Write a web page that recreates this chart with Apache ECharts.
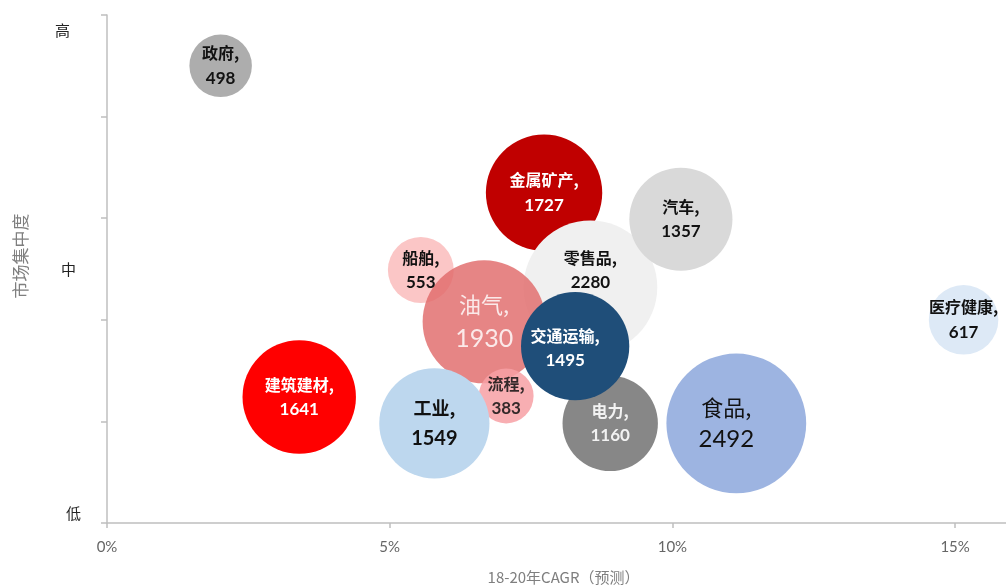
<!DOCTYPE html>
<html>
<head>
<meta charset="utf-8">
<script src="https://cdn.jsdelivr.net/npm/echarts@6/dist/echarts.min.js"></script>
<style>
html,body{margin:0;padding:0;background:#fff;}
#main{width:1006px;height:585px;}
</style>
</head>
<body>
<div id="main"></div>
<script>
// ---- data (drawing order: back to front) ----
const industries = ['船舶','金属矿产','零售品','汽车','油气','流程','工业','电力','交通运输','建筑建材','政府','医疗健康','食品'];
const cagr        = [5.55, 7.73, 8.55, 10.15, 6.67, 7.06, 5.79, 8.90, 8.28, 3.40, 2.01, 15.15, 11.13]; // %
const concentration = [2.49, 3.25, 2.32, 2.99, 1.98, 1.25, 0.98, 0.98, 1.74, 1.24, 4.50, 2.00, 0.98]; // 0=低 … 5=高
const marketSize  = [553, 1727, 2280, 1357, 1930, 383, 1549, 1160, 1495, 1641, 498, 617, 2492];
const xTicks = [0, 5, 10, 15];
const levelLabels = {10: '低', 250: '中', 485: '高'};

// ---- styles ----
const STYLE = {
  '船舶':   {color:'#fbc6c6', text:'#111'},
  '金属矿产': {color:'#c00000', text:'#fff'},
  '零售品':  {color:'#f0f0f0', text:'#111', dy:-17},
  '汽车':   {color:'#d9d9d9', text:'#111'},
  '油气':   {color:'#e06a6a', text:'#fff', opacity:0.82, big:[22,25], light:true, lh:35},
  '流程':   {color:'#f7a0a5', text:'#111', opacity:0.85},
  '工业':   {color:'#bdd7ee', text:'#111', big:[18,20], lh:30},
  '电力':   {color:'#878787', text:'#f2f2f2'},
  '交通运输': {color:'#1f4e79', text:'#fff', dx:-10, dy:2},
  '建筑建材': {color:'#ff0000', text:'#fff'},
  '政府':   {color:'#adadad', text:'#111'},
  '医疗健康': {color:'#dde9f6', text:'#111'},
  '食品':   {color:'#9db4e1', text:'#111', big:[22,24], light:true, lh:32, dx:-10}
};
const CJK = '"Noto Sans CJK SC", sans-serif';
const NUM = 'Lato, "Open Sans", sans-serif';

const data = industries.map((n, i) => {
  const s = STYLE[n];
  const fs = s.big || [16, 17];
  return {
    name: n,
    value: [cagr[i], concentration[i], marketSize[i]],
    itemStyle: {color: s.color, opacity: s.opacity || 1},
    label: {
      rich: {
        n: {fontFamily: CJK, fontSize: fs[0], color: s.text, fontWeight: s.light ? 'normal' : 'bold', lineHeight: s.lh || 25},
        v: {fontFamily: NUM, fontSize: fs[1], color: s.text, fontWeight: s.light ? 'normal' : 'bold', lineHeight: s.lh || 25}
      }
    }
  };
});

const chart = echarts.init(document.getElementById('main'));
chart.setOption({
  animation: false,
  backgroundColor: '#fff',
  grid: {left: 107, right: 0, top: 15, bottom: 62, outerBoundsMode: 'none', containLabel: false},
  xAxis: {
    type: 'value', min: 0, max: 15.9, interval: 5,
    name: '18-20年CAGR（预测）', nameLocation: 'middle', nameGap: 47,
    nameTextStyle: {color: '#7f7f7f', fontSize: 15, fontFamily: CJK, padding: [0, 0, 0, 14]},
    axisLine: {lineStyle: {color: '#bfbfbf', width: 1.5}},
    axisTick: {show: true, length: 5, lineStyle: {color: '#bfbfbf', width: 1.5}},
    axisLabel: {
      color: '#666', fontSize: 15, fontFamily: NUM, margin: 17, showMaxLabel: false,
      formatter: v => xTicks.includes(v) ? v + '%' : ''
    },
    splitLine: {show: false}
  },
  yAxis: [{
    type: 'value', min: 0, max: 5, interval: 1,
    name: '市场集中度', nameLocation: 'middle', nameGap: 78, nameRotate: 90,
    nameTextStyle: {color: '#7f7f7f', fontSize: 17, fontFamily: CJK, padding: [0, 0, 0, 26]},
    axisLine: {show: true, lineStyle: {color: '#bfbfbf', width: 1.5}},
    axisTick: {show: true, length: 6, lineStyle: {color: '#bfbfbf', width: 1.5}},
    axisLabel: {show: false},
    splitLine: {show: false}
  }, {
    type: 'value', min: 0, max: 5, interval: 0.05, position: 'left',
    axisLine: {show: false}, axisTick: {show: false}, splitLine: {show: false},
    axisLabel: {
      margin: 26, fontFamily: CJK, fontSize: 15, color: '#222',
      formatter: v => {
        const k = Math.round(v * 100);
        if (!levelLabels[k]) return '';
        const cls = k === 485 ? 'h' : (k === 250 ? 'm' : 'l');
        return '{' + cls + '|' + levelLabels[k] + '}';
      },
      rich: {
        h: {fontFamily: CJK, fontSize: 15, color: '#222', padding: [0, 11, 0, 0]},
        m: {fontFamily: CJK, fontSize: 15, color: '#222', padding: [0, 5, 0, 0]},
        l: {fontFamily: CJK, fontSize: 15, color: '#222'}
      }
    }
  }],
  series: [{
    type: 'scatter',
    yAxisIndex: 0,
    symbol: 'circle',
    symbolSize: v => 2.8 * Math.sqrt(v[2]),
    data: data,
    label: {
      show: true, position: 'inside', align: 'center', verticalAlign: 'middle',
      formatter: p => '{n|' + p.name + ',}\n{v|' + p.value[2] + '}'
    },
    labelLayout: p => {
      const s = STYLE[industries[p.dataIndex]];
      return {dx: s.dx || 0, dy: s.dy || 0};
    },
    emphasis: {disabled: true}
  }]
});
</script>
</body>
</html>
